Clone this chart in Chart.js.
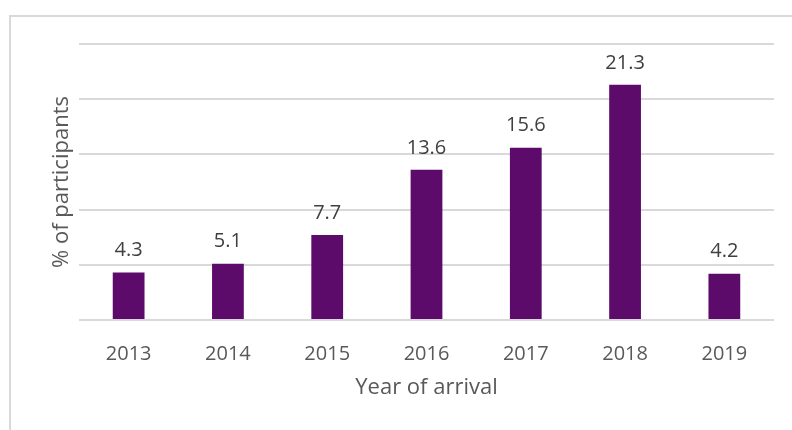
<!DOCTYPE html>
<html>
<head>
<meta charset="utf-8">
<script src="https://cdn.jsdelivr.net/npm/chart.js@4"></script>
<style>
  html, body { margin: 0; padding: 0; background: #fff; }
  #wrap { width: 792px; height: 430px; }
</style>
</head>
<body>
<div id="wrap"><canvas id="barchart" width="792" height="430"></canvas></div>
<script>
const years = ['2013', '2014', '2015', '2016', '2017', '2018', '2019'];
const shares = [4.3, 5.1, 7.7, 13.6, 15.6, 21.3, 4.2];
const yTicks = [0, 5, 10, 15, 20, 25];

const FONT = "'Open Sans', 'Liberation Sans', sans-serif";

// light frame round the whole chart
const frame = {
  id: 'frame',
  beforeDraw(chart) {
    const c = chart.ctx;
    c.save();
    c.strokeStyle = '#d9d9d9';
    c.lineWidth = 2;
    c.strokeRect(10, 16, 900, 900);
    c.restore();
  }
};

// value written above each bar
const barValues = {
  id: 'barValues',
  afterDatasetsDraw(chart) {
    const c = chart.ctx;
    const meta = chart.getDatasetMeta(0);
    c.save();
    c.font = '20px ' + FONT;
    c.fillStyle = '#404040';
    c.textAlign = 'center';
    c.textBaseline = 'bottom';
    meta.data.forEach((bar, i) => {
      c.fillText(shares[i].toFixed(1), bar.x, bar.y - 12);
    });
    c.restore();
  }
};

const ctx = document.getElementById('barchart').getContext('2d');
const myChart = new Chart(ctx, {
  type: 'bar',
  data: {
    labels: years,
    datasets: [{
      label: '% of participants',
      data: shares,
      backgroundColor: '#5c0b6b',
      borderWidth: 0,
      barPercentage: 0.32,
      categoryPercentage: 1
    }]
  },
  options: {
    responsive: false,
    animation: false,
    layout: { padding: { left: 40, top: 44, right: 18, bottom: 0 } },
    plugins: {
      legend: { display: false },
      tooltip: { enabled: false }
    },
    scales: {
      x: {
        afterFit: s => { s.height = 110; },
        grid: { display: false },
        border: { display: false },
        ticks: {
          color: '#595959',
          font: { family: FONT, size: 20 },
          padding: 14
        },
        title: {
          display: true,
          text: 'Year of arrival',
          color: '#595959',
          font: { family: FONT, size: 22 },
          padding: { top: 4, bottom: 29 }
        }
      },
      y: {
        min: 0,
        max: 25,
        afterFit: s => { s.width = 39; },
        afterBuildTicks: s => { s.ticks = yTicks.map(v => ({ value: v })); },
        grid: { color: '#d9d9d9', lineWidth: 2, drawTicks: false },
        border: { display: false },
        ticks: { display: false },
        title: {
          display: true,
          text: '% of participants',
          color: '#595959',
          font: { family: FONT, size: 22 },
          padding: 9
        }
      }
    }
  },
  plugins: [frame, barValues]
});
</script>
</body>
</html>
